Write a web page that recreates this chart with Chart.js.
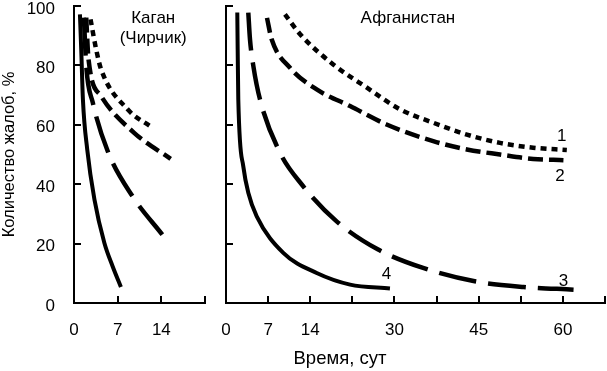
<!DOCTYPE html>
<html>
<head>
<meta charset="utf-8">
<script src="https://cdn.jsdelivr.net/npm/chart.js@4"></script>
<style>
  body { margin: 0; background: #fff; }
  #wrap { position: relative; width: 607px; height: 371px; overflow: hidden; font-family: "Liberation Sans", Arial, sans-serif; color: #000; }
  #left { position: absolute; left: 0; top: -10px; }
  #right { position: absolute; left: 212px; top: -10px; }
  #xtitle { position: absolute; left: 280px; top: 347px; width: 120px; text-align: center; font-size: 18.5px; line-height: 22px; }
</style>
</head>
<body>
<div id="wrap">
  <canvas id="left" width="212" height="381"></canvas>
  <canvas id="right" width="395" height="381"></canvas>
  <div id="xtitle">Время, сут</div>
</div>
<script>
// tick labels
const yTickLabels = ['0', '20', '40', '60', '80', '100'];
const kaganTickLabels = ['0', '7', '14', ''];
const afgTickLabels = ['0', '7', '14', '', '30', '', '45', '', '60', ''];

// Каган (Чирчик): [сутки, % жалоб]
const kagan1 = [[2.65, 95.5], [3.55, 85.4], [4.34, 78.7], [8.6, 65.2], [12.57, 59]];
const kagan2 = [[1.96, 96.1], [2.33, 82], [4.34, 69.7], [9.64, 57.3], [15.5, 48.5]];
const kagan3 = [[1.59, 96.1], [1.96, 79.8], [3.02, 67.4], [5.41, 51.1], [9.39, 35.9], [14.16, 23]];
const kagan4 = [[0.95, 97.2], [1.16, 85.4], [1.43, 68.5], [2.12, 51.7], [3.28, 34.8], [4.87, 20.2], [6.2, 12.3], [7.52, 5.4]];

// Афганистан
const afg1 = [[10.5, 97.2], [13.2, 90.5], [19.1, 80.3], [25.1, 72.5], [31, 65.2], [36.9, 60.7], [42.9, 56.7], [48.8, 53.9], [54.7, 52.3], [60.7, 51.5]];
const afg2 = [[7.3, 96], [8.13, 88.8], [11.4, 79.2], [16.15, 71.9], [22.1, 66.3], [28.6, 60.1], [36.9, 54.5], [42.9, 51.7], [48.8, 50], [54.7, 48.5], [60.1, 48.1]];
const afg3 = [[3.97, 97.8], [4.27, 88.8], [4.87, 79.8], [6.06, 68.5], [9.62, 50.6], [13.5, 39.9], [19.7, 27.5], [27.1, 18], [35.1, 11.8], [44.3, 7.3], [53, 5.4], [61.9, 4.5]];
const afg4 = [[2.01, 97.8], [2.08, 85.4], [2.19, 68.5], [3.08, 46], [3.97, 37.1], [5.47, 29.2], [10.2, 16.9], [16.15, 10.1], [22.1, 6.2], [29.2, 4.9]];

// texts inside the plots: [text, x, y]
const kaganNotes = [['Каган', 12.7, 95.9], ['(Чирчик)', 12.7, 89.1]];
const afgNotes = [['Афганистан', 32.4, 95.9], ['1', 59.8, 56.2], ['2', 59.5, 42.7], ['3', 60.1, 7.3], ['4', 28.6, 9.5]];

const FONT = '"Liberation Sans", Arial, sans-serif';
const dashes = { 1: [6, 5], 2: [15, 6], 3: [38, 12], 4: [] };

function makeDataset(arr, n) {
    return {
        data: arr.map(([x, y]) => ({ x: x, y: y })),
        showLine: true,
        borderColor: '#000',
        borderWidth: n === 4 ? 4 : 4.5,
        borderDash: dashes[n],
        pointRadius: 0,
        cubicInterpolationMode: 'monotone',
        fill: false
    };
}

const notesPlugin = {
    id: 'notes',
    afterDatasetsDraw(chart, args, opts) {
        const { ctx, scales } = chart;
        ctx.save();
        ctx.fillStyle = '#000';
        ctx.font = '17px ' + FONT;
        ctx.textAlign = 'center';
        ctx.textBaseline = 'middle';
        opts.items.forEach(n => {
            ctx.fillText(n[0], scales.x.getPixelForValue(n[1]), scales.y.getPixelForValue(n[2]));
        });
        ctx.restore();
    }
};

function makePanel(id, series, xMax, step, xLabels, notes, yAxisWidth, isLeft) {
    const axisCommon = {
        border: { color: '#000', width: 2 },
        grid: { drawOnChartArea: false, color: '#000', lineWidth: 2, tickLength: -7 }
    };
    return new Chart(document.getElementById(id), {
        type: 'scatter',
        data: { datasets: series.map((s, i) => makeDataset(s, i + 1)) },
        options: {
            responsive: false,
            animation: false,
            layout: { padding: { top: 16, right: isLeft ? 7 : 2, bottom: 0, left: 0 } },
            plugins: {
                legend: { display: false },
                tooltip: { enabled: false },
                notes: { items: notes }
            },
            scales: {
                x: {
                    ...axisCommon,
                    type: 'linear',
                    min: 0,
                    max: xMax,
                    ticks: {
                        stepSize: step,
                        color: '#000',
                        padding: 24,
                        maxRotation: 0,
                        autoSkip: false,
                        font: { family: FONT, size: 17 },
                        callback: (v, i) => xLabels[i]
                    },
                    // fixed size, no automatic side padding
                    afterFit: s => { s.height = 68; s.paddingLeft = 0; s.paddingRight = 0; }
                },
                y: {
                    ...axisCommon,
                    min: 0,
                    max: 100,
                    ticks: {
                        stepSize: 20,
                        color: '#000',
                        padding: 26,
                        labelOffset: 3,
                        font: { family: FONT, size: 17 },
                        callback: (v, i) => isLeft ? yTickLabels[i] : ''
                    },
                    title: {
                        display: isLeft,
                        text: 'Количество жалоб, %',
                        color: '#000',
                        padding: 0,
                        font: { family: FONT, size: 16.5 }
                    },
                    afterFit: s => { s.width = yAxisWidth; s.paddingTop = 0; s.paddingBottom = 0; }
                }
            }
        },
        plugins: [notesPlugin]
    });
}

makePanel('left', [kagan1, kagan2, kagan3, kagan4], 21, 7, kaganTickLabels, kaganNotes, 74, true);
makePanel('right', [afg1, afg2, afg3, afg4], 67.5, 7.5, afgTickLabels, afgNotes, 14, false);
</script>
</body>
</html>
